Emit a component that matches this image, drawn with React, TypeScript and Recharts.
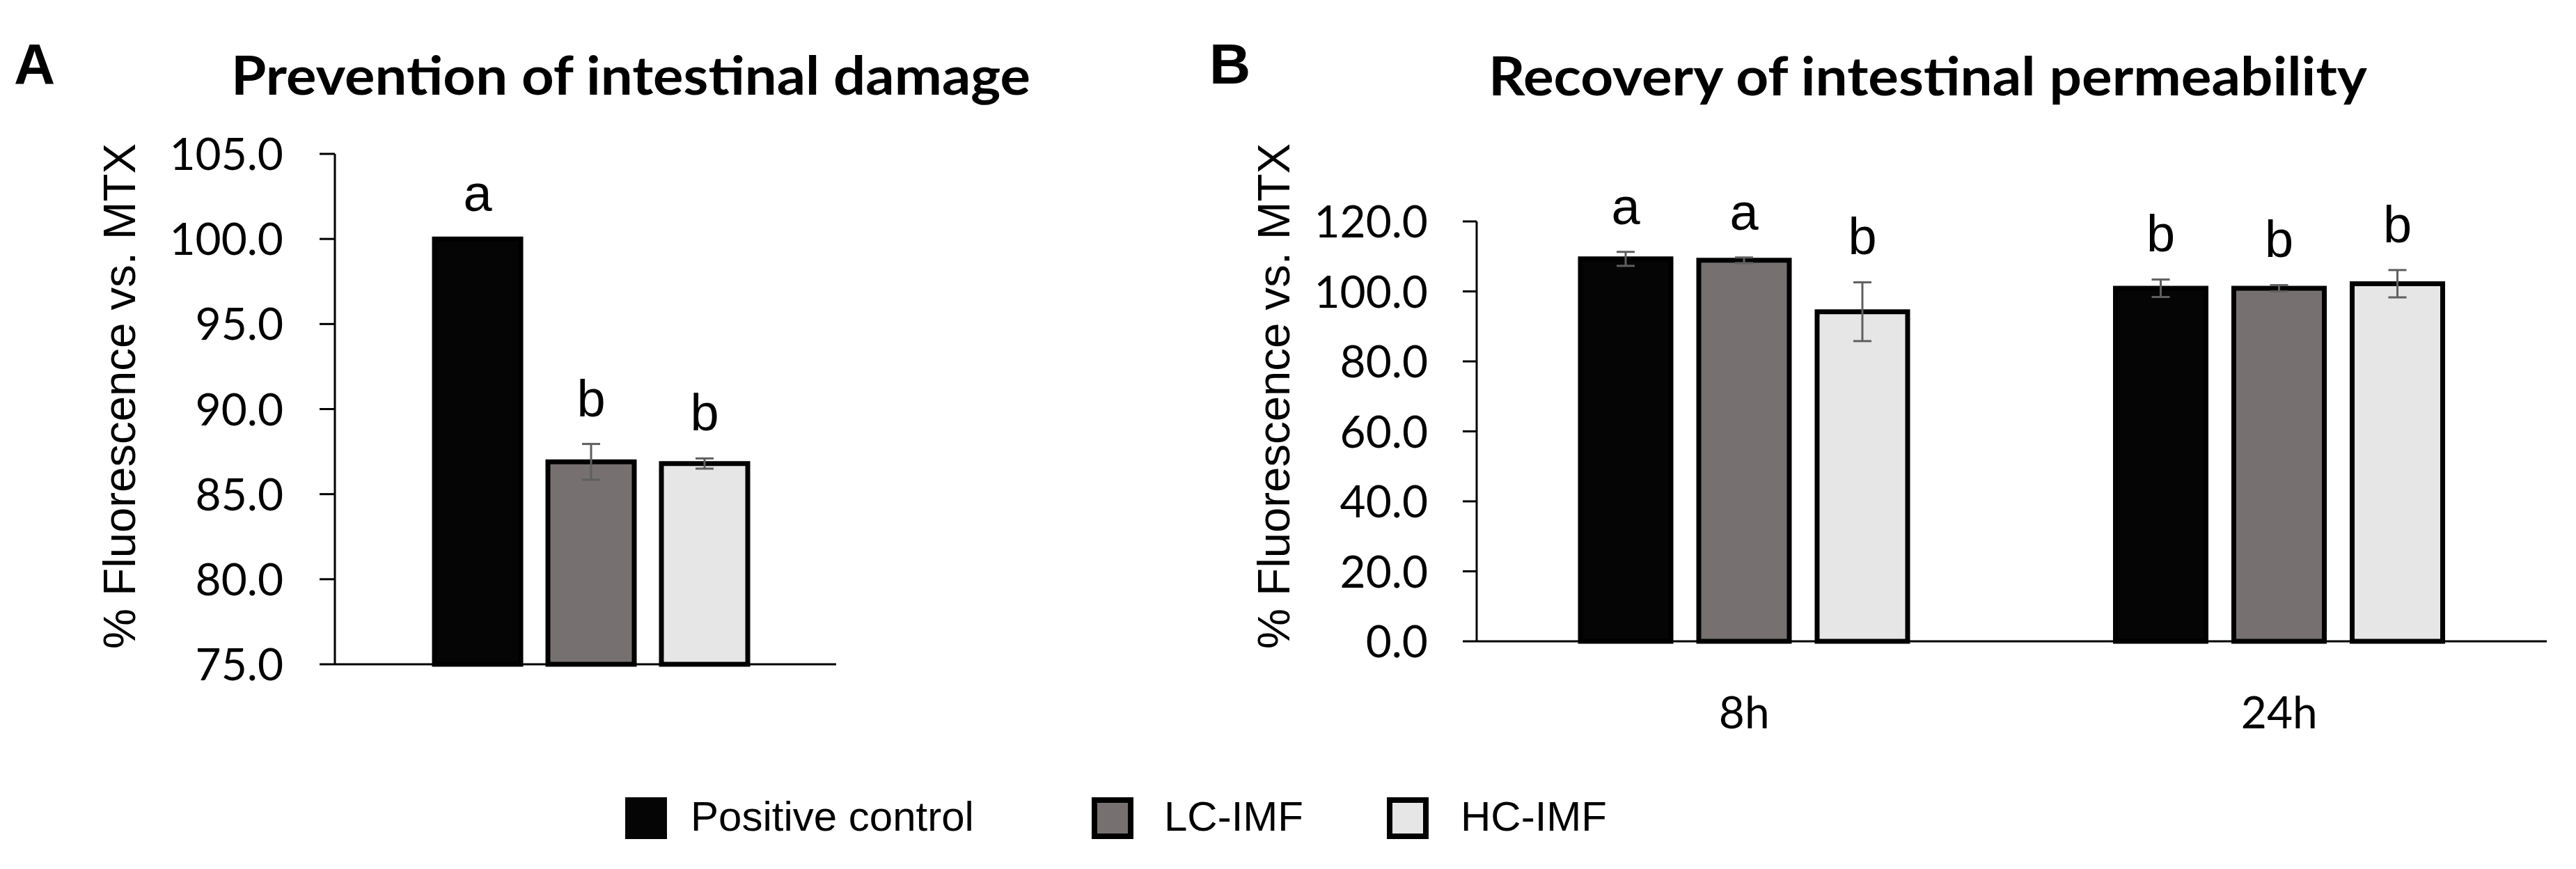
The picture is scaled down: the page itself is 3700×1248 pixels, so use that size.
import React from 'react';
import { BarChart, Bar, XAxis, YAxis, ErrorBar, LabelList } from 'recharts';

// series
const seriesKeys = ['pc', 'lc', 'hc'];
const seriesNames = ['Positive control', 'LC-IMF', 'HC-IMF'];
const seriesFill = ['#050505', '#767170', '#e6e6e6'];

// A - prevention of intestinal damage (one group)
const preventionCats = [''];
const preventionPC = [100.0];
const preventionPCErr = [null];
const preventionLC = [86.9];
const preventionLCErr = [1.05];
const preventionHC = [86.8];
const preventionHCErr = [0.3];
const preventionLetters = [['a'], ['b'], ['b']];
const preventionTicks = [75, 80, 85, 90, 95, 100, 105];

// B - recovery of intestinal permeability
const recoveryCats = ['8h', '24h'];
const recoveryPC = [109.3, 100.9];
const recoveryPCErr = [2.0, 2.5];
const recoveryLC = [108.9, 100.9];
const recoveryLCErr = [0.8, 0.9];
const recoveryHC = [94.2, 102.2];
const recoveryHCErr = [8.4, 3.9];
const recoveryLetters = [['a', 'b'], ['a', 'b'], ['b', 'b']];
const recoveryTicks = [0, 20, 40, 60, 80, 100, 120];

const buildRows = (cats: string[], vals: number[][], errs: (number | null)[][], letters: string[][]) =>
  cats.map((c, i) => {
    const row: any = { cat: c };
    seriesKeys.forEach((k, s) => {
      row[k] = vals[s][i];
      row[k + 'Err'] = errs[s][i];
      row[k + 'L'] = letters[s][i];
    });
    return row;
  });

const prevVals = [preventionPC, preventionLC, preventionHC];
const prevErrs = [preventionPCErr, preventionLCErr, preventionHCErr];
const recVals = [recoveryPC, recoveryLC, recoveryHC];
const recErrs = [recoveryPCErr, recoveryLCErr, recoveryHCErr];

const dataA = buildRows(preventionCats, prevVals, prevErrs, preventionLetters);
const dataB = buildRows(recoveryCats, recVals, recErrs, recoveryLetters);

const SANS = "'Liberation Sans', Arial, sans-serif";
const TICKFONT = "Lato, 'Open Sans', sans-serif";

const YTick = (p: any) => (
  <text x={p.x} y={p.y} dy={23} textAnchor="end" fontFamily={TICKFONT} fontSize={64} fill="#000">
    {Number(p.payload.value).toFixed(1)}
  </text>
);

const XTick = (p: any) => (
  <text x={p.x} y={p.y} dy={125} textAnchor="middle" fontFamily={TICKFONT} fontSize={64} fill="#000">
    {p.payload.value}
  </text>
);

// letter above each bar, lifted over the error bar
const letterLabel = (vals: number[], errs: (number | null)[], min: number) => (p: any) => {
  const vb = p.viewBox || {};
  const x = p.x ?? vb.x;
  const y = p.y ?? vb.y;
  const w = p.width ?? vb.width;
  const h = p.height ?? vb.height;
  const i = p.index;
  const ppu = Math.abs(h) / (vals[i] - min);
  const errPx = (errs[i] ?? 0) * ppu;
  return (
    <text x={x + w / 2} y={y - errPx - 40} textAnchor="middle" fontFamily={SANS} fontSize={74} fill="#000">
      {p.value}
    </text>
  );
};

const renderBars = (vals: number[][], errs: (number | null)[][], min: number) =>
  seriesKeys.map((k, s) => (
    <Bar key={k} dataKey={k} fill={seriesFill[s]} stroke="#000" strokeWidth={7} isAnimationActive={false}>
      <ErrorBar dataKey={k + 'Err'} width={13} strokeWidth={3} stroke="#5f5f5f" isAnimationActive={false} />
      <LabelList dataKey={k + 'L'} content={letterLabel(vals[s], errs[s], min)} />
    </Bar>
  ));

const axisLine = { stroke: '#000', strokeWidth: 3 };

const legendX = [898, 1568, 1992];
const legendTextX = [992, 1672, 2098];

export default function App() {
  return (
    <div style={{ position: 'absolute', left: 0, top: 0, width: 3700, height: 1248, background: '#fff' }}>
      <div style={{ position: 'absolute', left: 0, top: 0 }}>
        <BarChart width={1300} height={1000} data={dataA} margin={{ top: 221, right: 99, bottom: 45, left: 0 }} barSize={124} barGap={39}>
          <XAxis dataKey="cat" tick={false} tickLine={false} axisLine={axisLine} height={1} padding={{ left: 15, right: 0 }} />
          <YAxis
            width={481}
            domain={[75, 105]}
            ticks={preventionTicks}
            interval={0}
            tickSize={22}
            tickMargin={52}
            tickLine={axisLine}
            axisLine={axisLine}
            tick={<YTick />}
          />
          {renderBars(prevVals as number[][], prevErrs, 75)}
        </BarChart>
      </div>
      <div style={{ position: 'absolute', left: 1700, top: 0 }}>
        <BarChart width={2000} height={1100} data={dataB} margin={{ top: 318, right: 42, bottom: 29, left: 0 }} barSize={130} barGap={40}>
          <XAxis dataKey="cat" tickLine={false} tickSize={0} tickMargin={0} axisLine={axisLine} height={150} tick={<XTick />} />
          <YAxis
            width={421}
            domain={[0, 120]}
            ticks={recoveryTicks}
            interval={0}
            tickSize={20}
            tickMargin={50}
            tickLine={axisLine}
            axisLine={axisLine}
            tick={<YTick />}
          />
          {renderBars(recVals, recErrs, 0)}
        </BarChart>
      </div>
      <svg width={3700} height={1248} style={{ position: 'absolute', left: 0, top: 0, pointerEvents: 'none' }}>
        <text x={20} y={120} fontFamily={SANS} fontWeight="bold" fontSize={82}>A</text>
        <text x={1737} y={120} fontFamily={SANS} fontWeight="bold" fontSize={82}>B</text>
        <text x={332} y={136} fontFamily={TICKFONT} fontWeight={700} fontSize={76} textLength={1148} lengthAdjust="spacingAndGlyphs">
          Prevention of intestinal damage
        </text>
        <text x={2138} y={137} fontFamily={TICKFONT} fontWeight={700} fontSize={76} textLength={1262} lengthAdjust="spacingAndGlyphs">
          Recovery of intestinal permeability
        </text>
        {[172, 1830].map((cx) => (
          <text
            key={cx}
            transform={`translate(${cx}, 569) rotate(-90)`}
            textAnchor="middle"
            dominantBaseline="central"
            fontFamily={SANS}
            fontSize={64}
            textLength={726}
            lengthAdjust="spacingAndGlyphs"
          >
            % Fluorescence vs. MTX
          </text>
        ))}
        {seriesNames.map((name, s) => (
          <g key={name}>
            {s === 0 ? (
              <rect x={legendX[s]} y={1145} width={60} height={60} fill={seriesFill[s]} />
            ) : (
              <rect x={legendX[s] + 4} y={1149} width={52} height={52} fill={seriesFill[s]} stroke="#000" strokeWidth={8} />
            )}
            <text x={legendTextX[s]} y={1193} fontFamily={SANS} fontSize={60}>{name}</text>
          </g>
        ))}
      </svg>
    </div>
  );
}
